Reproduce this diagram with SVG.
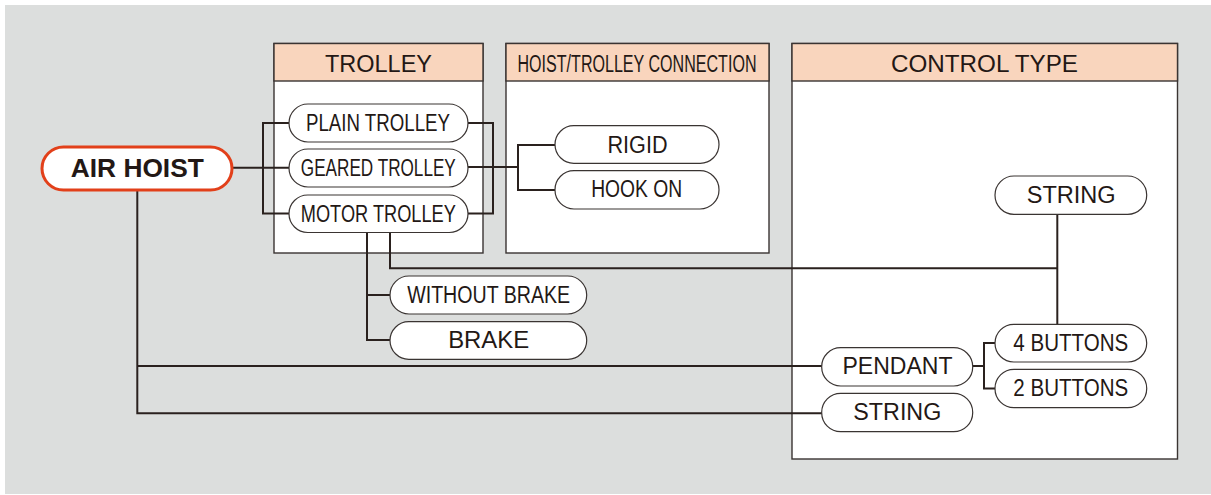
<svg xmlns="http://www.w3.org/2000/svg" width="1211" height="495" viewBox="0 0 1211 495">
<style>
.bg{fill:#dcdedd}
.box{fill:#ffffff;stroke:#3a3432;stroke-width:1.4}
.hdr{fill:#f9d5bd;stroke:#3a3432;stroke-width:1.4}
.pill{fill:#ffffff;stroke:#3a3432;stroke-width:1.2}
.main{fill:#ffffff;stroke:#e2401a;stroke-width:3}
.t{font-family:"Liberation Sans",Arial,sans-serif;font-size:23px;fill:#231815;text-anchor:middle}
.h{font-size:23.5px}
.b{font-weight:bold;font-size:26px}
.ln{fill:none;stroke:#2a211e;stroke-width:2}
</style>
<rect class="bg" x="5" y="5" width="1206" height="489"/>

<g id="trolley-panel">
<rect class="box" x="274" y="43.5" width="209" height="209.5"/>
<rect class="hdr" x="274" y="43.5" width="209" height="37.5"/>
<text class="t h" x="378.5" y="71.7" textLength="107" lengthAdjust="spacingAndGlyphs">TROLLEY</text>
</g>
<g id="connection-panel">
<rect class="box" x="506" y="43.5" width="263" height="209.5"/>
<rect class="hdr" x="506" y="43.5" width="263" height="37.5"/>
<text class="t h" x="637" y="71.7" textLength="239" lengthAdjust="spacingAndGlyphs">HOIST/TROLLEY CONNECTION</text>
</g>
<g id="control-panel">
<rect class="box" x="792" y="43.5" width="385.5" height="415.5"/>
<rect class="hdr" x="792" y="43.5" width="385.5" height="37.5"/>
<text class="t h" x="984.5" y="71.7" textLength="187" lengthAdjust="spacingAndGlyphs">CONTROL TYPE</text>
</g>

<g id="connectors">
<path class="ln" d="M232 167.7H289"/>
<path class="ln" d="M289 123H263V213.5H289"/>
<path class="ln" d="M468 123H493V213.5H468"/>
<path class="ln" d="M468 167H518"/>
<path class="ln" d="M555 145H518V190H555"/>
<path class="ln" d="M137.3 190V413.3H822"/>
<path class="ln" d="M137.3 366H822"/>
<path class="ln" d="M972.7 366H984"/>
<path class="ln" d="M995 343H984V388.5H995"/>
<path class="ln" d="M367 232V340H390"/>
<path class="ln" d="M367 295H390"/>
<path class="ln" d="M390 232V268.3H1057.3"/>
<path class="ln" d="M1057.3 214V324.3"/>
</g>

<g id="air-hoist">
<rect class="main" x="42" y="147" width="190" height="43" rx="21.5"/>
<text class="t b" x="137.3" y="177.3" textLength="133" lengthAdjust="spacingAndGlyphs">AIR HOIST</text>
</g>
<g id="plain-trolley">
<rect class="pill" x="289" y="104" width="179" height="38" rx="19"/>
<text class="t" x="378" y="131" textLength="144" lengthAdjust="spacingAndGlyphs">PLAIN TROLLEY</text>
</g>
<g id="geared-trolley">
<rect class="pill" x="289" y="149" width="179" height="38" rx="19"/>
<text class="t" x="378.3" y="175.7" textLength="155" lengthAdjust="spacingAndGlyphs">GEARED TROLLEY</text>
</g>
<g id="motor-trolley">
<rect class="pill" x="289" y="195" width="179" height="37.5" rx="18.75"/>
<text class="t" x="378.3" y="221.7" textLength="155" lengthAdjust="spacingAndGlyphs">MOTOR TROLLEY</text>
</g>
<g id="rigid">
<rect class="pill" x="555" y="125.7" width="164" height="37.6" rx="18.8"/>
<text class="t" x="637.5" y="152.7" textLength="60" lengthAdjust="spacingAndGlyphs">RIGID</text>
</g>
<g id="hook-on">
<rect class="pill" x="555" y="170.7" width="164" height="38.3" rx="19"/>
<text class="t" x="636.7" y="197.3" textLength="91" lengthAdjust="spacingAndGlyphs">HOOK ON</text>
</g>
<g id="without-brake">
<rect class="pill" x="390" y="276" width="196.7" height="38" rx="19"/>
<text class="t" x="488.7" y="302.7" textLength="163" lengthAdjust="spacingAndGlyphs">WITHOUT BRAKE</text>
</g>
<g id="brake">
<rect class="pill" x="390" y="321.7" width="196.7" height="37.6" rx="18.8"/>
<text class="t" x="488.7" y="348.3" textLength="81" lengthAdjust="spacingAndGlyphs">BRAKE</text>
</g>
<g id="string-top">
<rect class="pill" x="995" y="176" width="151.7" height="38.3" rx="19"/>
<text class="t" x="1071.2" y="202.7" textLength="89" lengthAdjust="spacingAndGlyphs">STRING</text>
</g>
<g id="four-buttons">
<rect class="pill" x="995" y="324.3" width="151.7" height="37.7" rx="18.8"/>
<text class="t" x="1070.8" y="350.7" textLength="115" lengthAdjust="spacingAndGlyphs">4 BUTTONS</text>
</g>
<g id="two-buttons">
<rect class="pill" x="995" y="369.3" width="151.7" height="38.4" rx="19"/>
<text class="t" x="1070.8" y="395.7" textLength="115" lengthAdjust="spacingAndGlyphs">2 BUTTONS</text>
</g>
<g id="pendant">
<rect class="pill" x="821.7" y="347.7" width="151" height="38.3" rx="19"/>
<text class="t" x="897.5" y="374.3" textLength="110" lengthAdjust="spacingAndGlyphs">PENDANT</text>
</g>
<g id="string-bottom">
<rect class="pill" x="821.7" y="393.3" width="151" height="38.4" rx="19"/>
<text class="t" x="897.3" y="420" textLength="88" lengthAdjust="spacingAndGlyphs">STRING</text>
</g>
</svg>
